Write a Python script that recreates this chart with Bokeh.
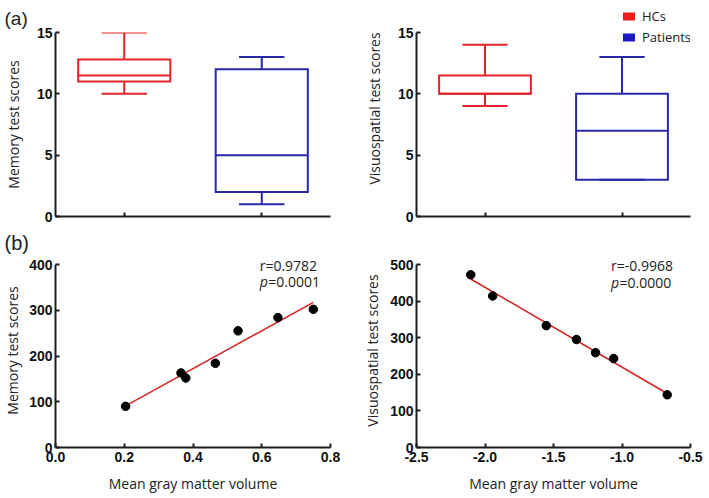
import numpy as np
from bokeh.plotting import figure
from bokeh.models import (ColumnDataSource, FactorRange, Range1d, FixedTicker, Label,
                          Legend, LegendItem, NumeralTickFormatter)
from bokeh.transform import dodge
from bokeh.layouts import column, row
from bokeh.embed import file_html
from bokeh.resources import INLINE

# ---------------- data ----------------
groups = ["HCs", "Patients"]
box_colors = ["#e3242a", "#2828a8"]
legend_colors = ["#f01a1a", "#1a1ac8"]

mem_min = [10, 1]
mem_q1 = [11, 2]
mem_med = [11.5, 5]
mem_q3 = [12.8, 12]
mem_max = [15, 13]

vis_min = [9, 3]
vis_q1 = [10, 3]
vis_med = [10, 7]
vis_q3 = [11.5, 10]
vis_max = [14, 13]

box_yticks = [0, 5, 10, 15]

mem_gmv = [0.204, 0.365, 0.379, 0.465, 0.531, 0.647, 0.750]
mem_score = [90, 163, 152, 184, 255, 284, 302]
mem_xticks = [0.0, 0.2, 0.4, 0.6, 0.8]
mem_yticks = [0, 100, 200, 300, 400]
mem_r = "r=0.9782"
mem_p = "=0.0001"

vis_gmv = [-2.104, -1.944, -1.553, -1.332, -1.193, -1.061, -0.670]
vis_score = [472, 414, 333, 295, 259, 243, 144]
vis_xticks = [-2.5, -2.0, -1.5, -1.0, -0.5]
vis_yticks = [0, 100, 200, 300, 400, 500]
vis_r = "r=-0.9968"
vis_p = "=0.0000"

mem_label = "Memory test scores"
vis_label = "Visuospatial test scores"
x_label = "Mean gray matter volume"

# ---------------- style ----------------
TICK_FONT = "Liberation Sans"
LABEL_FONT = "Open Sans"
AX = "#1e1e1e"
TXT = "#222222"


def style_axes(p, ylab_standoff):
    for ax in (p.xaxis[0], p.yaxis[0]):
        ax.axis_line_width = 2
        ax.axis_line_color = AX
        ax.major_tick_line_width = 2
        ax.major_tick_line_color = AX
        ax.major_tick_in = 4
        ax.major_tick_out = 0
        ax.minor_tick_line_color = None
        ax.major_label_text_font = TICK_FONT
        ax.major_label_text_font_style = "bold"
        ax.major_label_text_font_size = "14px"
        ax.major_label_text_color = "#111111"
        ax.major_label_standoff = 3
        ax.axis_label_text_font = LABEL_FONT
        ax.axis_label_text_font_style = "normal"
        ax.axis_label_text_font_size = "14px"
        ax.axis_label_text_color = TXT
    p.yaxis.axis_label_standoff = ylab_standoff
    p.grid.visible = False
    p.outline_line_color = None
    p.background_fill_color = None
    p.border_fill_color = None


def box_fig(width, mb_left, mb_right, mb_top, y_end, ylabel, ylab_so, lo, q1, med, q3, hi):
    src = ColumnDataSource(dict(g=groups, lo=lo, q1=q1, med=med, q3=q3, hi=hi,
                                c=box_colors, lc=legend_colors))
    p = figure(width=width, height=224, x_range=FactorRange(factors=groups, range_padding=0),
               y_range=Range1d(0, y_end), output_backend="svg", toolbar_location=None,
               min_border_left=mb_left, min_border_right=mb_right,
               min_border_top=mb_top, min_border_bottom=8)
    xr = p.x_range
    kw = dict(line_color="c", line_width=2, source=src)
    p.segment(x0="g", y0="q3", x1="g", y1="hi", **kw)
    p.segment(x0="g", y0="q1", x1="g", y1="lo", **kw)
    p.segment(x0=dodge("g", -0.165, range=xr), y0="hi", x1=dodge("g", 0.165, range=xr), y1="hi", **kw)
    p.segment(x0=dodge("g", -0.165, range=xr), y0="lo", x1=dodge("g", 0.165, range=xr), y1="lo", **kw)
    p.vbar(x="g", top="q3", bottom="q1", width=0.67, fill_color=None, line_join="miter", **kw)
    p.segment(x0=dodge("g", -0.335, range=xr), y0="med", x1=dodge("g", 0.335, range=xr), y1="med", **kw)
    style_axes(p, ylab_so)
    p.yaxis.ticker = FixedTicker(ticks=box_yticks)
    p.yaxis.bounds = (box_yticks[0], box_yticks[-1])
    p.yaxis.axis_label = ylabel
    p.xaxis.major_label_text_color = None
    p.xaxis.major_label_text_font_size = "1px"
    p.xaxis.major_label_standoff = 0
    return p, src


def scatter_fig(width, mb_left, mb_right, xs, ys, xr, yr, xticks, yticks, ylabel, ylab_so,
                rtxt, ptxt, lx, ry, py):
    src = ColumnDataSource(dict(x=xs, y=ys))
    # frame reaches 11px above the top tick (183px span) so the r/p texts are not clipped
    y_end = yr[1] * 194.0 / 183.0
    p = figure(width=width, height=272, x_range=Range1d(*xr), y_range=Range1d(yr[0], y_end),
               output_backend="svg", toolbar_location=None,
               min_border_left=mb_left, min_border_right=mb_right,
               min_border_top=29, min_border_bottom=49)
    k, b = np.polyfit(np.array(xs), np.array(ys), 1)
    fx = np.array([min(xs), max(xs)])
    p.line(fx, k * fx + b, line_color="#d42424", line_width=1.6)
    p.scatter("x", "y", source=src, size=8.5, fill_color="black", line_color="black")
    style_axes(p, ylab_so)
    p.xaxis.ticker = FixedTicker(ticks=xticks)
    p.yaxis.ticker = FixedTicker(ticks=yticks)
    p.yaxis.bounds = (yticks[0], yticks[-1])
    p.xaxis.formatter = NumeralTickFormatter(format="0.0")
    p.xaxis.major_label_standoff = 4
    p.xaxis.axis_label = x_label
    p.xaxis.axis_label_standoff = 9
    p.yaxis.axis_label = ylabel
    common = dict(text_font=LABEL_FONT, text_font_size="14px", text_color=TXT,
                  text_baseline="middle", text_align="left")
    p.add_layout(Label(x=lx, y=ry, text=rtxt, **common))
    p.add_layout(Label(x=lx, y=py, text="p", text_font_style="italic", **common))
    p.add_layout(Label(x=lx, y=py, x_offset=8.5, text=ptxt, **common))
    return p


p1, s1 = box_fig(360, 53, 30, 32, 15, mem_label, 11, mem_min, mem_q1, mem_med, mem_q3, mem_max)
# right box plot: frame reaches the top of the canvas (legend lives there); 15 sits 184px above 0
p2, s2 = box_fig(348, 54, 18, 0, 15 * 216.0 / 184.0, vis_label, 11,
                 vis_min, vis_q1, vis_med, vis_q3, vis_max)
p2.title = None

# legend (HCs / Patients) with filled squares
dummy = p2.rect(x="g", y="q1", width=0.1, height=0.1, fill_color="lc", line_color=None,
                source=s2, visible=False)
legend = Legend(items=[LegendItem(label=groups[i], renderers=[dummy], index=i) for i in range(2)],
                location=(205, 170), border_line_color=None, background_fill_alpha=0,
                padding=0, margin=0, spacing=3, label_standoff=6, glyph_width=15, glyph_height=10,
                label_text_font=LABEL_FONT, label_text_font_size="13px", label_text_color=TXT)
p2.add_layout(legend)

p3 = scatter_fig(360, 53, 28, mem_gmv, mem_score, (0, 0.8), (0, 400), mem_xticks, mem_yticks,
                 mem_label, 4, mem_r, mem_p, 0.594, 398, 362)
p4 = scatter_fig(348, 54, 15, vis_gmv, vis_score, (-2.5, -0.5), (0, 500), vis_xticks, vis_yticks,
                 vis_label, 5, vis_r, vis_p, -1.08, 498, 452)
p4.title = None

# panel letters as titles
for p, letter, so, fs in ((p1, "(a)", 8, "19px"), (p3, "(b)", 0, "20px")):
    p.title.text = letter
    p.title.align = "left"
    p.title.offset = -51
    p.title.standoff = so
    p.title.text_font = TICK_FONT
    p.title.text_font_style = "normal"
    p.title.text_font_size = fs
    p.title.text_color = TXT

layout = row(column(p1, p3), column(p2, p4))
open("out.html", "w").write(file_html(layout, INLINE))
